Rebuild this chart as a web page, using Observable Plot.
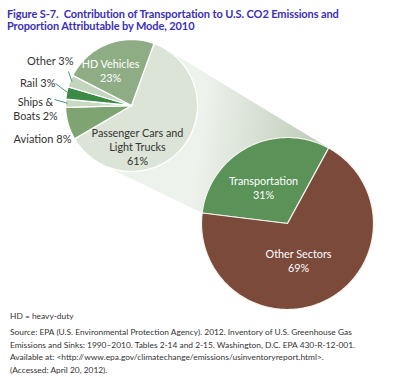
<!DOCTYPE html>
<html><head><meta charset="utf-8">
<script src="https://cdn.jsdelivr.net/npm/d3@7"></script>
<script src="https://cdn.jsdelivr.net/npm/@observablehq/plot@0.6"></script>
<style>
html,body{margin:0;padding:0;background:#fff;}
body{width:400px;height:377px;overflow:hidden;position:relative;font-family:Lato,"Open Sans",sans-serif;}
#title{position:absolute;left:7px;top:8px;font-weight:bold;font-size:11px;line-height:12px;color:#3a30b8;white-space:nowrap;letter-spacing:-0.1px;}
#chart{position:absolute;left:0;top:34px;}
#cap{position:absolute;left:10px;top:310px;font-size:8.4px;line-height:12.8px;color:#333;white-space:nowrap;}
</style></head><body>
<div id="title">Figure S-7.&nbsp; Contribution of Transportation to U.S. CO2 Emissions and<br>Proportion Attributable by Mode, 2010</div>
<div id="chart"></div>
<div id="cap"><div>HD = heavy-duty</div><div style="margin-top:3px">Source: EPA (U.S. Environmental Protection Agency). 2012. Inventory of U.S. Greenhouse Gas<br>Emissions and Sinks: 1990–2010. Tables 2-14 and 2-15. Washington, D.C. EPA 430-R-12-001.<br>Available at: &lt;http://www.epa.gov/climatechange/emissions/usinventoryreport.html&gt;.<br>(Accessed: April 20, 2012).</div></div>
<script>
// ---- data ----
const modes = ["Passenger Cars and\nLight Trucks", "Aviation", "Ships &\nBoats", "Rail", "Other", "HD Vehicles"];
const modeShares = [61, 8, 2, 3, 3, 23];
const sectors = ["Transportation", "Other Sectors"];
const sectorShares = [31, 69];
const modeColors = ["#dbe4d6", "#7ea571", "#c8d9c2", "#3b8a45", "#c4d5bd", "#8fad85"];
const sectorColors = ["#5a9258", "#7c4a3b"];

// ---- layout ----
const W = 400, H = 268, OFF = 34;
const leftPie = {cx: 131, cy: 105 - OFF, r: 66, start: 20};
const rightPie = {cx: 287, cy: 223 - OFF, r: 86, start: -83};
const rad = d => d * Math.PI / 180;
const pt = (c, a, r = c.r) => [c.cx + r * Math.sin(a), c.cy - r * Math.cos(a)];

function slices(names, values, c) {
  const arcs = d3.pie().sort(null).startAngle(rad(c.start)).endAngle(rad(c.start) + 2 * Math.PI)(values);
  const pts = [];
  arcs.forEach((a, i) => {
    const n = Math.max(3, Math.ceil((a.endAngle - a.startAngle) / 0.02));
    pts.push({name: names[i], x: c.cx, y: c.cy});
    for (let k = 0; k <= n; k++) {
      const t = a.startAngle + (a.endAngle - a.startAngle) * k / n;
      const [x, y] = pt(c, t);
      pts.push({name: names[i], x, y});
    }
    pts.push({name: names[i], x: c.cx, y: c.cy});
  });
  return {arcs, pts};
}
const L = slices(modes, modeShares, leftPie);
const R = slices(sectors, sectorShares, rightPie);

// band: tangents from left pie to the ends of the Transportation slice
function tangent(c, P, side) {
  const dx = P[0] - c.cx, dy = P[1] - c.cy;
  const d = Math.hypot(dx, dy);
  const dir = Math.atan2(dx, -dy);
  const off = Math.acos(c.r / d);
  return pt(c, dir + side * off);
}
const tr = R.arcs[0];
const P1 = pt(rightPie, tr.endAngle), P2 = pt(rightPie, tr.startAngle);
const T1 = tangent(leftPie, P1, -1), T2 = tangent(leftPie, P2, 1);
const band = [T1, P1, P2, T2, [leftPie.cx, leftPie.cy]].map(([x, y]) => ({x, y}));

// leaders from small-slice labels to slice edges
const leaderFrom = {"Other": [68, 71 - OFF], "Rail": [55, 83 - OFF], "Ships &\nBoats": [54, 99 - OFF]};
const leaders = L.arcs.map((a, i) => ({a, name: modes[i]})).filter(d => leaderFrom[d.name]).map(d => {
  const [x2, y2] = pt(leftPie, (d.a.startAngle + d.a.endAngle) / 2, leftPie.r - 2);
  const [x1, y1] = leaderFrom[d.name];
  return {x1, y1, x2, y2};
});

// label placement (page coords)
const labelPos = {
  "Passenger Cars and\nLight Trucks": {x: 137, y: 146, anchor: "middle", fill: "#333", pct: true},
  "Aviation": {x: 71, y: 138, anchor: "end", fill: "#333"},
  "Ships &\nBoats": {x: 35, y: 108, anchor: "middle", fill: "#333"},
  "Rail": {x: 55, y: 82, anchor: "end", fill: "#333"},
  "Other": {x: 73, y: 60, anchor: "end", fill: "#333"},
  "HD Vehicles": {x: 110, y: 70, anchor: "middle", fill: "#fff", pct: true},
  "Transportation": {x: 263, y: 187, anchor: "middle", fill: "#fff", pct: true},
  "Other Sectors": {x: 298, y: 260, anchor: "middle", fill: "#fff", pct: true}
};
const labels = [...modes.map((m, i) => [m, modeShares[i]]), ...sectors.map((s, i) => [s, sectorShares[i]])].map(([name, v]) => {
  const p = labelPos[name];
  return {x: p.x, y: p.y - OFF, anchor: p.anchor, fill: p.fill, text: name + (p.pct ? "\n" : " ") + v + "%"};
});

const chart = Plot.plot({
  width: W, height: H, margin: 0,
  x: {domain: [0, W], range: [0, W], axis: null},
  y: {domain: [0, H], range: [0, H], axis: null},
  color: {domain: [...modes, ...sectors], range: [...modeColors, ...sectorColors]},
  style: {fontFamily: "Lato, 'Open Sans', sans-serif", background: "transparent", overflow: "visible"},
  marks: [
    Plot.line(band, {x: "x", y: "y", fill: "url(#bandGrad)", stroke: "none"}),
    Plot.line(R.pts, {x: "x", y: "y", z: "name", fill: "name", stroke: "#f4f4f0", strokeWidth: 1.2, strokeLinejoin: "round"}),
    Plot.line(L.pts, {x: "x", y: "y", z: "name", fill: "name", stroke: "#fff", strokeWidth: 1.3, strokeLinejoin: "round"}),
    Plot.link(leaders, {x1: "x1", y1: "y1", x2: "x2", y2: "y2", stroke: "#3f9b78", strokeWidth: 1}),
    Plot.text(labels.filter(d => d.anchor === "middle"), {x: "x", y: "y", text: "text", fill: d => d.fill, textAnchor: "middle", fontSize: 10.8, lineHeight: 1.27}),
    Plot.text(labels.filter(d => d.anchor === "end"), {x: "x", y: "y", text: "text", fill: d => d.fill, textAnchor: "end", fontSize: 11, lineHeight: 1.27})
  ]
});
// gradient definition for the connecting band
const defs = d3.select(chart).insert("defs", ":first-child");
const g = defs.append("linearGradient").attr("id", "bandGrad").attr("gradientUnits", "userSpaceOnUse")
  .attr("x1", 200).attr("y1", 95).attr("x2", 320).attr("y2", 110);
g.append("stop").attr("offset", 0).attr("stop-color", "#eef2ec");
g.append("stop").attr("offset", 1).attr("stop-color", "#bdcbb7");
document.getElementById("chart").appendChild(chart);
</script>
</body></html>
